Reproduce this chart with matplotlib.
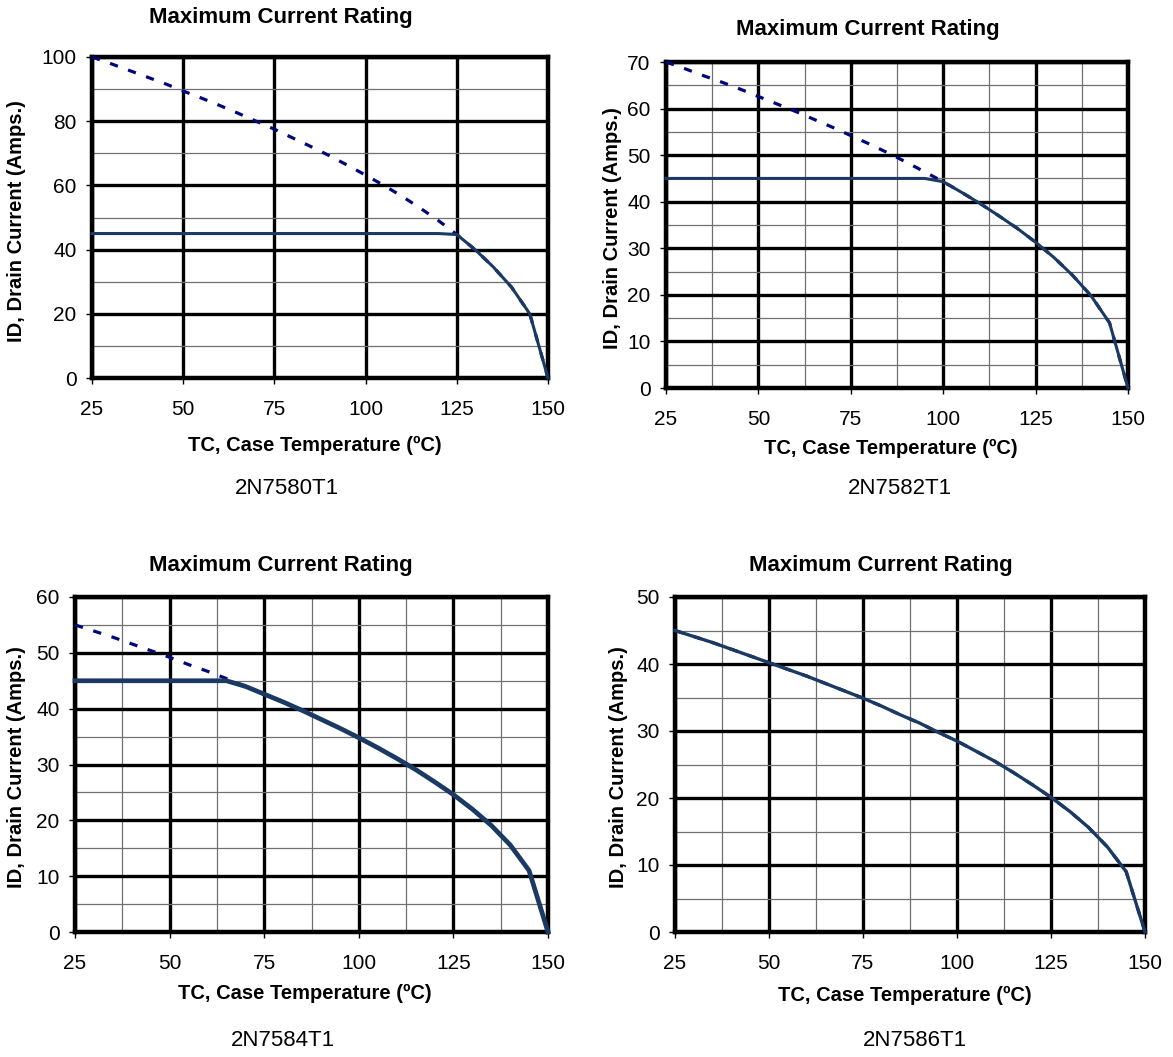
import matplotlib
matplotlib.use("Agg")
import matplotlib.pyplot as plt
from matplotlib.ticker import MultipleLocator

plt.rcParams['font.family'] = ['Liberation Sans', 'DejaVu Sans']

# case temperature samples (deg C)
temps = [25, 30, 35, 40, 45, 50, 55, 60, 65, 70, 75, 80, 85, 90, 95,
         100, 105, 110, 115, 120, 125, 130, 135, 140, 145, 150]

# dashed: die-limited current (A)
die_7580 = [100, 98.0, 95.9, 93.8, 91.7, 89.4, 87.2, 84.9, 82.5, 80.0, 77.5, 74.8, 72.1,
            69.3, 66.3, 63.2, 60.0, 56.6, 52.9, 49.0, 44.7, 40.0, 34.6, 28.3, 20.0, 0]
die_7582 = [70, 68.6, 67.1, 65.7, 64.2, 62.6, 61.0, 59.4, 57.7, 56.0, 54.2, 52.4, 50.5,
            48.5, 46.4, 44.3, 42.0, 39.6, 37.0, 34.3, 31.3, 28.0, 24.2, 19.8, 14.0, 0]
die_7584 = [55, 53.9, 52.8, 51.6, 50.4, 49.2, 47.9, 46.7, 45.4, 44.0, 42.6, 41.2, 39.7,
            38.1, 36.5, 34.8, 33.0, 31.1, 29.1, 26.9, 24.6, 22.0, 19.1, 15.6, 11.0, 0]
die_7586 = [45, 44.1, 43.2, 42.2, 41.2, 40.2, 39.2, 38.2, 37.1, 36.0, 34.9, 33.7, 32.4,
            31.2, 29.8, 28.5, 27.0, 25.5, 23.8, 22.0, 20.1, 18.0, 15.6, 12.7, 9.0, 0]

# solid: rated current (package limited at 45 A)
t_7580 = [25, 120, 125, 130, 135, 140, 145, 150]
id_7580 = [45, 45, 44.7, 40.0, 34.6, 28.3, 20.0, 0]
t_7582 = [25, 95, 100, 105, 110, 115, 120, 125, 130, 135, 140, 145, 150]
id_7582 = [45, 45, 44.3, 42.0, 39.6, 37.0, 34.3, 31.3, 28.0, 24.2, 19.8, 14.0, 0]
t_7584 = [25, 65, 70, 75, 80, 85, 90, 95, 100, 105, 110, 115, 120, 125, 130, 135, 140, 145, 150]
id_7584 = [45, 45, 44.0, 42.6, 41.2, 39.7, 38.1, 36.5, 34.8, 33.0, 31.1, 29.1, 26.9, 24.6,
           22.0, 19.1, 15.6, 11.0, 0]
t_7586 = temps
id_7586 = die_7586

W, H = 1173, 1057
fig = plt.figure(figsize=(W / 100, H / 100), dpi=100)


def px(x, y):
    return x / W, 1 - y / H


def box(l, t, r, b):
    return [l / W, 1 - b / H, (r - l) / W, (b - t) / H]


panels = [
    dict(rect=box(92, 57, 548, 378), ymax=100, ymaj=20, ymin=10, xmin=None,
         die=die_7580, t=t_7580, i=id_7580, name='2N7580T1', lw=2.2,
         title=(281, 18), xlab=(315, 445), ylab=(17, 221), sub=(287, 488)),
    dict(rect=box(666, 62, 1128, 388), ymax=70, ymaj=10, ymin=5, xmin=12.5,
         die=die_7582, t=t_7582, i=id_7582, name='2N7582T1', lw=2.2,
         title=(868, 30), xlab=(891, 448), ylab=(612, 228), sub=(900, 488)),
    dict(rect=box(75, 597, 548, 932), ymax=60, ymaj=10, ymin=5, xmin=12.5,
         die=die_7584, t=t_7584, i=id_7584, name='2N7584T1', lw=3.4,
         title=(281, 565), xlab=(305, 993), ylab=(17, 767), sub=(283, 1040)),
    dict(rect=box(675, 597, 1145, 932), ymax=50, ymaj=10, ymin=5, xmin=12.5,
         die=die_7586, t=t_7586, i=id_7586, name='2N7586T1', lw=2.4,
         title=(881, 565), xlab=(905, 995), ylab=(618, 767), sub=(915, 1040)),
]

for p in panels:
    ax = fig.add_axes(p['rect'])
    ax.set_xlim(25, 150)
    ax.set_ylim(0, p['ymax'])
    ax.xaxis.set_major_locator(MultipleLocator(25))
    ax.yaxis.set_major_locator(MultipleLocator(p['ymaj']))
    ax.yaxis.set_minor_locator(MultipleLocator(p['ymin']))
    if p['xmin']:
        ax.xaxis.set_minor_locator(MultipleLocator(p['xmin']))
    ax.set_axisbelow(True)
    ax.grid(which='minor', color='#707070', lw=0.9)
    ax.grid(which='major', color='black', lw=2.4)
    for s in ax.spines.values():
        s.set_linewidth(3.2)
    ax.tick_params(which='major', direction='out', length=4, width=1,
                   labelsize=15, pad=7)
    ax.tick_params(axis='x', which='major', pad=12)
    ax.tick_params(which='minor', length=0)

    ax.plot(temps, p['die'], color='#00087a', lw=2.3, ls=(0, (2.6, 3.4)),
            clip_on=False, zorder=3)
    ax.plot(p['t'], p['i'], color='#1a3a63', lw=p['lw'],
            clip_on=False, zorder=4, solid_joinstyle='miter')

    fig.text(*px(*p['title']), 'Maximum Current Rating', ha='center', va='center',
             fontsize=16, fontweight='bold')
    fig.text(*px(*p['xlab']), 'TC, Case Temperature (ºC)', ha='center', va='center',
             fontsize=14.5, fontweight='bold')
    fig.text(*px(*p['ylab']), 'ID, Drain Current (Amps.)', ha='center', va='center',
             fontsize=14.5, fontweight='bold', rotation=90)
    fig.text(*px(*p['sub']), p['name'], ha='center', va='center', fontsize=16)

fig.savefig('out.png', dpi=100)
